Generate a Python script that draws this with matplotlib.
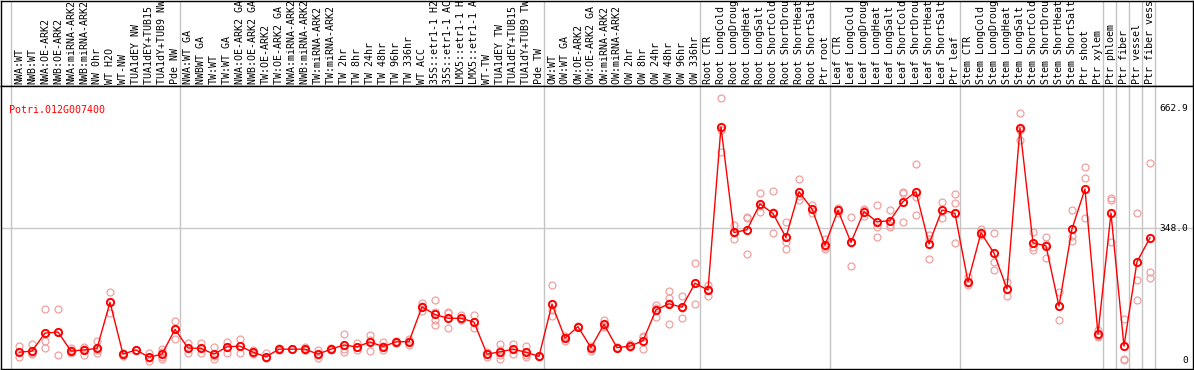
import matplotlib.pyplot as plt

gene = "Potri.012G007400"

labels = [
    "NWA:WT", "NWB:WT", "NWA:OE-ARK2", "NWB:OE-ARK2", "NWA:miRNA-ARK2", "NWB:miRNA-ARK2",
    "NW 0hr", "WT H2O", "WT-NW", "TUA1dEY NW", "TUA1dEY+TUB15 NW", "TUA1dY+TUB9 NW", "Pde NW",
    "NWA:WT GA", "NWBWT GA", "TW:WT", "TW:WT GA", "NWA:OE-ARK2 GA", "NWB:OE-ARK2 GA",
    "TW:OE-ARK2", "TW:OE-ARK2 GA", "NWA:miRNA-ARK2 GA", "NWB:miRNA-ARK2 GA", "TW:miRNA-ARK2",
    "TW:miRNA-ARK2 GA", "TW 2hr", "TW 8hr", "TW 24hr", "TW 48hr", "TW 96hr", "TW 336hr",
    "WT ACC", "35S::etr1-1 H2O", "35S::etr1-1 ACC", "LMX5::etr1-1 H2O", "LMX5::etr1-1 ACC",
    "WT-TW", "TUA1dEY TW", "TUA1dEY+TUB15 TW", "TUA1dY+TUB9 TW", "Pde TW",
    "OW:WT", "OW:WT GA", "OW:OE-ARK2", "OW:OE-ARK2 GA", "OW:miRNA-ARK2", "OW:miRNA-ARK2 GA",
    "OW 2hr", "OW 8hr", "OW 24hr", "OW 48hr", "OW 96hr", "OW 336hr",
    "Root CTR", "Root LongCold", "Root LongDrought", "Root LongHeat", "Root LongSalt",
    "Root ShortCold", "Root ShortDrought", "Root ShortHeat", "Root ShortSalt", "Ptr root",
    "Leaf CTR", "Leaf LongCold", "Leaf LongDrought", "Leaf LongHeat", "Leaf LongSalt",
    "Leaf ShortCold", "Leaf ShortDrought", "Leaf ShortHeat", "Leaf ShortSalt", "Ptr leaf",
    "Stem CTR", "Stem LongCold", "Stem LongDrought", "Stem LongHeat", "Stem LongSalt",
    "Stem ShortCold", "Stem ShortDrought", "Stem ShortHeat", "Stem ShortSalt", "Ptr shoot",
    "Ptr xylem", "Ptr phloem", "Ptr fiber", "Ptr vessel", "Ptr fiber vessel",
]

means = [
    23, 26, 73, 76, 26, 29, 33, 154, 18, 29, 10, 18, 83,
    34, 33, 18, 37, 39, 23, 11, 31, 31, 31, 18, 31, 42, 37, 50, 38, 50, 51,
    142, 122, 112, 112, 102, 18, 24, 31, 23, 12,
    149, 60, 90, 35, 96, 35, 39, 53, 134, 150, 141, 204, 186,
    614, 337, 344, 412, 387, 324, 444, 399, 304,
    395, 311, 392, 365, 368, 418, 444, 307, 396, 387,
    208, 336, 283, 189, 611, 310, 302, 144, 346, 451,
    71, 388, 39, 260, 323,
]

reps = [
    [39, 10, 24], [45, 18, 20], [136, 52, 33], [136, 15, 76], [20, 29, 34], [38, 16, 32],
    [53, 20, 29], [180, 125, 155], [20, 13, 18], [29, 28, 30], [22, 1, 8], [31, 24, 10, 6],
    [106, 57, 84],
    [46, 22, 34], [48, 20, 33], [38, 5, 12], [50, 22, 37], [57, 20, 40], [29, 18, 21],
    [20, 7, 7], [32, 30, 33], [31, 32, 31], [36, 28, 30], [29, 7, 17], [33, 30, 31],
    [71, 24, 31], [46, 29, 37], [68, 26, 55], [50, 29, 39], [50, 48, 52], [57, 42, 53],
    [151, 144, 132], [159, 108, 94, 129], [129, 86, 125], [121, 108, 110], [121, 86, 101],
    [24, 10, 18], [45, 4, 16, 29], [45, 18, 32], [40, 16, 11], [12, 11, 13],
    [199, 118, 134], [53, 63, 66], [90, 92, 88], [27, 39, 37], [108, 89, 92], [35, 33, 37],
    [45, 37, 37], [66, 32, 62], [147, 116, 138], [184, 164, 97, 152], [171, 112, 139],
    [256, 150, 205], [199, 171, 189],
    [689, 549, 605], [357, 320, 336], [374, 280, 377], [440, 390, 407], [446, 335, 391],
    [365, 313, 294], [477, 422, 433], [409, 387, 399], [320, 294, 299],
    [402, 389, 395], [377, 249, 310], [399, 380, 396], [409, 351, 326], [396, 351, 356],
    [444, 440, 365], [517, 383, 430], [330, 319, 268], [418, 374, 396], [438, 414, 310],
    [221, 199, 205], [345, 330, 332], [336, 260, 239], [207, 190, 170], [650, 580, 605],
    [338, 300, 290], [307, 270, 325], [181, 108, 144], [396, 315, 328], [509, 480, 375],
    [81, 66, 63], [428, 422, 312], [110, 5, 3], [388, 212, 160], [519, 233, 218],
]

# column boundaries with grey separators
separators = [-0.6, 12.4, 40.4, 52.4, 62.4, 72.4, 83.4, 84.4, 85.4, 86.4, 87.4]
ytick_values = [0, 348.0, 662.9]

W, H = 1194, 370
fig = plt.figure(figsize=(W / 100, H / 100), dpi=100)


def px_axes(x0, y0, x1, y1):
    return fig.add_axes([x0 / W, 1 - y1 / H, (x1 - x0) / W, (y1 - y0) / H])


ax_lab = px_axes(1, 0.5, 1193, 85.5)
ax = px_axes(1, 85.5, 1193, 369)

xlim = (-1.385, 90.31)
mono = "DejaVu Sans Mono"

for a in (ax_lab, ax):
    a.set_xlim(*xlim)
    a.set_xticks([])
    a.set_yticks([])
    for s in a.spines.values():
        s.set_color("black")
        s.set_linewidth(1)
    for b in separators:
        a.axvline(b, color="#c4c4c4", lw=1, zorder=0)

ax_lab.set_ylim(0, 85)
for i, lab in enumerate(labels):
    ax_lab.text(i, 2, lab, rotation=90, ha="center", va="bottom", fontsize=7.2,
                family=mono, clip_on=True)

ax.set_ylim(-21, 722.5)
ax.axhline(348.0, color="#c8c8c8", lw=1, zorder=0)

for i, r in enumerate(reps):
    ax.plot([i] * len(r), r, "o", ms=5, mfc="none", mec="#f0a0a0", mew=0.9, zorder=2)

x = list(range(len(means)))
ax.plot(x, means, "-", color="red", lw=1, zorder=3)
ax.plot(x, means, "o", ms=5.2, mfc="none", mec="red", mew=1.4, zorder=4)

ax.text(-0.75, 662.9 - 5, gene, color="red", fontsize=7.2, family=mono,
        ha="left", va="center")

for v in ytick_values:
    txt = "0" if v == 0 else f"{v:.1f}"
    ax.text(89.9, v, txt, fontsize=6.8, family=mono, ha="right", va="center")

fig.savefig("out.png", dpi=100)
